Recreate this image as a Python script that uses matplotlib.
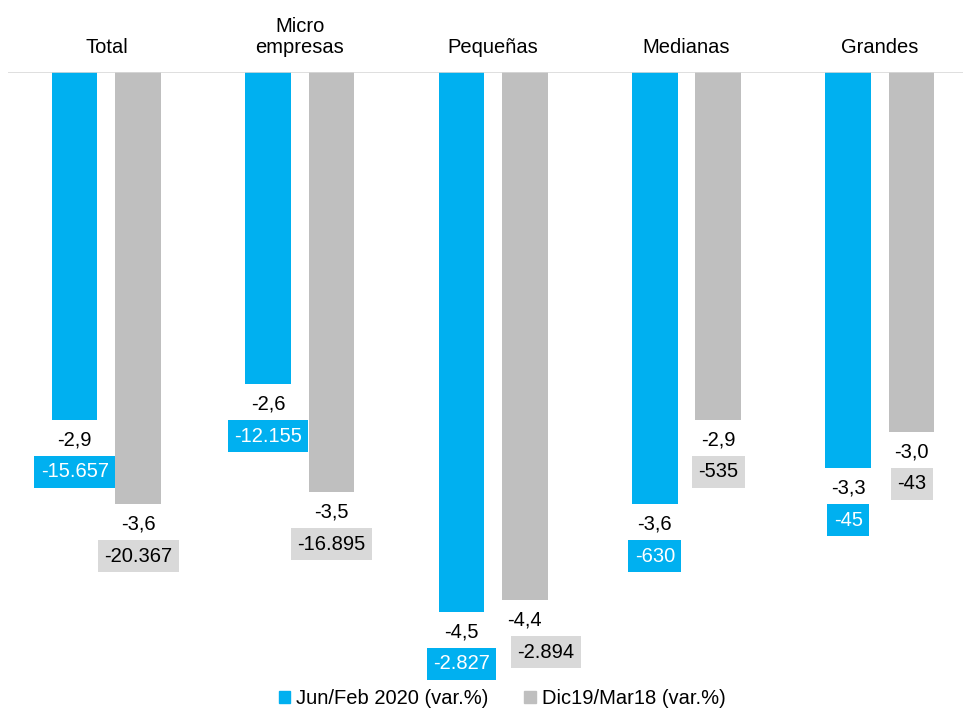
import matplotlib
matplotlib.use("Agg")
import matplotlib.pyplot as plt
import numpy as np
from matplotlib.patches import Patch

categories = ["Total", "Micro\nempresas", "Pequeñas", "Medianas", "Grandes"]
jun_feb_pct = [-2.9, -2.6, -4.5, -3.6, -3.3]
dic_mar_pct = [-3.6, -3.5, -4.4, -2.9, -3.0]
jun_feb_abs = ["-15.657", "-12.155", "-2.827", "-630", "-45"]
dic_mar_abs = ["-20.367", "-16.895", "-2.894", "-535", "-43"]
series_names = ["Jun/Feb 2020 (var.%)", "Dic19/Mar18 (var.%)"]

BLUE = "#00B0F0"
GRAY = "#BFBFBF"
BOX_GRAY = "#D9D9D9"
FONT = ["Liberation Sans", "DejaVu Sans"]
FS = 14.5

plt.rcParams["font.family"] = FONT

fig = plt.figure(figsize=(9.63, 7.11), dpi=100)
ax = fig.add_axes([8 / 963, 1 - 668 / 711, 955 / 963, (668 - 72) / 711])

x = np.arange(len(categories))
width = 0.235
off = 0.164

ax.bar(x - off, jun_feb_pct, width, color=BLUE, zorder=2)
ax.bar(x + off, dic_mar_pct, width, color=GRAY, zorder=2)

ax.set_xlim(-0.509, 4.43)
ax.set_ylim(-596 / 120, 0)
ax.axhline(0, color="#D9D9D9", linewidth=1.2, zorder=3)


def px(v):
    return v * 72 / 100


# the Pequeñas grey box is nudged right in the original so it doesn't hit the blue one
box_shift = {(1, 2): 21}

for s_idx, (xs, vals, labels, box_fc, box_tc) in enumerate([
    (x - off, jun_feb_pct, jun_feb_abs, BLUE, "white"),
    (x + off, dic_mar_pct, dic_mar_abs, BOX_GRAY, "black"),
]):
    for c_idx, (xi, v, lab) in enumerate(zip(xs, vals, labels)):
        ax.annotate(f"{v:.1f}".replace(".", ","), (xi, v), xytext=(0, -px(20)),
                    textcoords="offset points", ha="center", va="center",
                    fontsize=FS, color="black")
        dx = box_shift.get((s_idx, c_idx), 0)
        ax.annotate(lab, (xi, v), xytext=(px(dx), -px(52)),
                    textcoords="offset points", ha="center", va="center",
                    fontsize=FS, color=box_tc,
                    bbox=dict(boxstyle="square,pad=0.32", fc=box_fc, ec="none"))

for xi, cat in zip(x, categories):
    ax.annotate(cat, (xi, 0), xytext=(0, px(19)), textcoords="offset points",
                ha="center", va="baseline", fontsize=FS, color="black",
                annotation_clip=False, linespacing=1.15)

for s in ax.spines.values():
    s.set_visible(False)
ax.set_xticks([])
ax.set_yticks([])

handles = [Patch(color=BLUE), Patch(color=GRAY)]
fig.legend(handles, series_names, loc="center", bbox_to_anchor=(502 / 963, 1 - 699 / 711),
           ncol=2, frameon=False, fontsize=FS, handlelength=0.55, handleheight=0.55,
           handletextpad=0.3, columnspacing=1.8)

fig.savefig("out.png", dpi=100)
